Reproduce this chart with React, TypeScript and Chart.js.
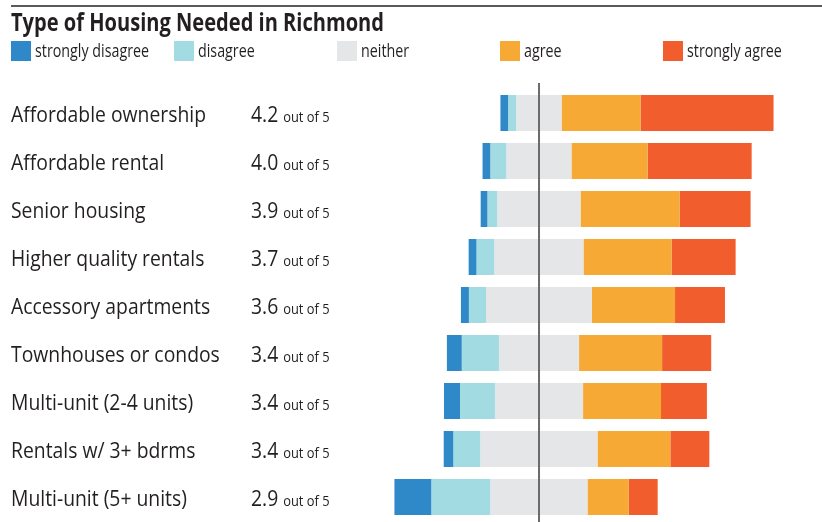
import React, { useEffect, useRef } from "react";
import { Chart, registerables } from "chart.js";

Chart.register(...registerables);

const title = "Type of Housing Needed in Richmond";
const categories = [
  "Affordable ownership",
  "Affordable rental",
  "Senior housing",
  "Higher quality rentals",
  "Accessory apartments",
  "Townhouses or condos",
  "Multi-unit (2-4 units)",
  "Rentals w/ 3+ bdrms",
  "Multi-unit (5+ units)",
];
const scores = ["4.2", "4.0", "3.9", "3.7", "3.6", "3.4", "3.4", "3.4", "2.9"];
const scoreSuffix = "out of 5";
const legendLabels = ["strongly disagree", "disagree", "neither", "agree", "strongly agree"];
const colors = ["#2f89c8", "#a3dbe2", "#e5e6e7", "#f6aa35", "#f25d2d"];

const stronglyDisagree = [3.0, 3.0, 2.6, 3.0, 3.0, 5.6, 6.0, 3.7, 13.9];
const disagree = [3.0, 6.0, 3.7, 6.7, 6.4, 13.9, 13.1, 10.1, 22.1];
const neither = [16.9, 24.3, 31.1, 33.3, 39.7, 30.0, 33.0, 43.8, 36.3];
const agree = [29.6, 28.5, 37.1, 33.0, 31.1, 31.1, 29.2, 27.3, 15.4];
const stronglyAgree = [49.8, 39.0, 26.6, 24.0, 18.7, 18.4, 17.2, 14.6, 10.9];

const FONT = '"Open Sans", "Noto Sans", sans-serif';
const TEXT = "#231f20";

function drawScaled(ctx: CanvasRenderingContext2D, text: string, x: number, y: number, sx: number) {
  ctx.save();
  ctx.translate(x, y);
  ctx.scale(sx, 1);
  ctx.fillText(text, 0, 0);
  ctx.restore();
}

const overlay = {
  id: "overlay",
  afterDatasetsDraw(chart: any) {
    const ctx: CanvasRenderingContext2D = chart.ctx;
    const xs = chart.scales.x;
    const ys = chart.scales.y;
    const zeroX = xs.getPixelForValue(0);

    ctx.save();
    // centre line
    ctx.strokeStyle = "#6b6b6b";
    ctx.lineWidth = 2;
    ctx.beginPath();
    ctx.moveTo(zeroX, 83);
    ctx.lineTo(zeroX, chart.height);
    ctx.stroke();

    // top rule
    ctx.strokeStyle = "#5a5a5a";
    ctx.lineWidth = 2;
    ctx.beginPath();
    ctx.moveTo(11, 6);
    ctx.lineTo(chart.width, 6);
    ctx.stroke();

    ctx.fillStyle = TEXT;
    ctx.textBaseline = "alphabetic";
    ctx.textAlign = "left";

    // calibrate condensed look
    ctx.font = `21px ${FONT}`;
    const sx = 195 / ctx.measureText(categories[0]).width;
    ctx.font = `18.5px ${FONT}`;
    const sxl = 114 / ctx.measureText(legendLabels[0]).width;
    ctx.font = `bold 25px ${FONT}`;
    const sxb = 373 / ctx.measureText(title).width;

    // title
    drawScaled(ctx, title, 11, 31, sxb);

    // legend
    legendLabels.forEach((lab, i) => {
      const lx = 11 + i * 163;
      ctx.fillStyle = colors[i];
      ctx.fillRect(lx, 41, 20, 20);
      ctx.fillStyle = TEXT;
      ctx.font = `18.5px ${FONT}`;
      drawScaled(ctx, lab, lx + 24, 57, sxl);
    });

    // row labels & scores
    categories.forEach((cat, i) => {
      const cy = ys.getPixelForValue(i);
      ctx.font = `21px ${FONT}`;
      drawScaled(ctx, cat, 11, cy + 9, sx);
      drawScaled(ctx, scores[i], 251, cy + 9, sx);
      const w = ctx.measureText(scores[i]).width * sx;
      ctx.font = `14px ${FONT}`;
      drawScaled(ctx, scoreSuffix, 251 + w + 5, cy + 9, sx);
    });
    ctx.restore();
  },
};

export default function App() {
  const ref = useRef<HTMLCanvasElement>(null);
  useEffect(() => {
    if (!ref.current) return;
    const half = neither.map((v) => v / 2);
    const common = { categoryPercentage: 1, barPercentage: 0.75, borderWidth: 0, borderSkipped: false };
    const chart = new Chart(ref.current, {
      type: "bar",
      data: {
        labels: categories,
        datasets: [
          { label: "neither", data: half.map((v) => -v), backgroundColor: colors[2], ...common },
          { label: "neither", data: half, backgroundColor: colors[2], ...common },
          { label: "disagree", data: disagree.map((v) => -v), backgroundColor: colors[1], ...common },
          { label: "agree", data: agree, backgroundColor: colors[3], ...common },
          { label: "strongly disagree", data: stronglyDisagree.map((v) => -v), backgroundColor: colors[0], ...common },
          { label: "strongly agree", data: stronglyAgree, backgroundColor: colors[4], ...common },
        ] as any,
      },
      options: {
        indexAxis: "y",
        animation: false,
        responsive: false,
        devicePixelRatio: 1,
        layout: { padding: { top: 89, bottom: 1, left: 0, right: 0 } },
        scales: {
          x: { stacked: true, min: -201.9, max: 106.0, display: false },
          y: { stacked: true, display: false },
        },
        plugins: { legend: { display: false }, tooltip: { enabled: false }, title: { display: false } },
      } as any,
      plugins: [overlay],
    });
    return () => chart.destroy();
  }, []);
  return (
    <div style={{ position: "fixed", left: 0, top: 0, width: 822, height: 522, background: "#fff" }}>
      <canvas ref={ref} width={822} height={522} style={{ display: "block" }} />
    </div>
  );
}
